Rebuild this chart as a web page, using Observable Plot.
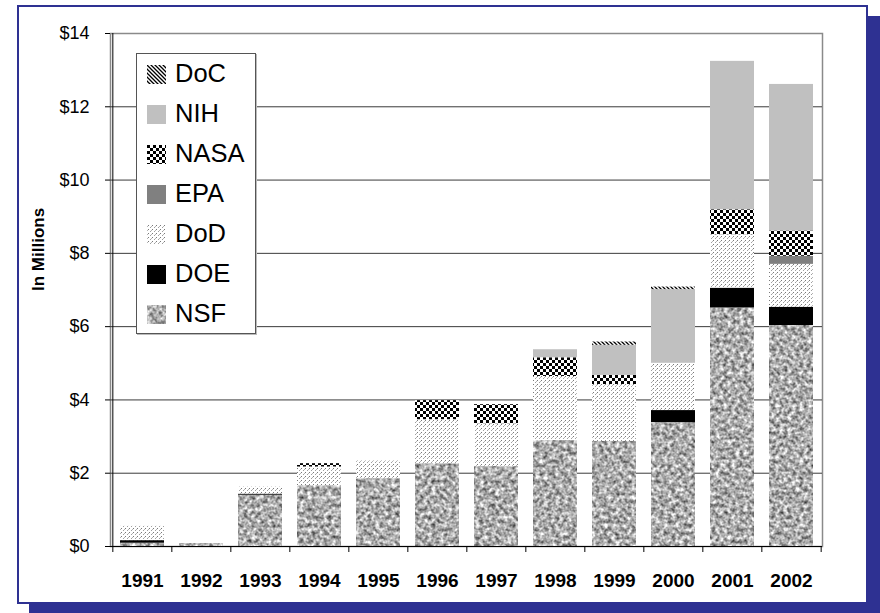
<!DOCTYPE html>
<html><head><meta charset="utf-8">
<script src="https://cdn.jsdelivr.net/npm/d3@7"></script>
<script src="https://cdn.jsdelivr.net/npm/@observablehq/plot@0.6"></script>
<style>
html,body{margin:0;padding:0;background:#fff;}
#wrap{position:relative;width:880px;height:613px;overflow:hidden;font-family:"Liberation Sans",Arial,sans-serif;}
#frame{position:absolute;left:17px;top:5px;width:847px;height:595px;border:2px solid #2E3192;background:#fff;box-shadow:12px 11px 0 #2E3192;}
#chart{position:absolute;left:0;top:0;}
#legend{position:absolute;left:136px;top:53px;width:118px;height:279px;border:1px solid #555;background:#fff;box-shadow:1px 1px 0 #bbb;}
.item{position:absolute;left:10px;height:40px;display:flex;align-items:center;font-size:25.5px;color:#000;line-height:1;}
.item svg{margin-right:9px;display:block;}
#defs{position:absolute;width:0;height:0;}
</style>
</head><body>
<svg id="defs" width="0" height="0">
<defs>
  <filter id="granite" x="0" y="0" width="100%" height="100%" color-interpolation-filters="sRGB">
    <feTurbulence type="fractalNoise" baseFrequency="0.25" numOctaves="3" seed="7"/>
    <feColorMatrix type="matrix" values="1.15 0 0 0 0.1  1.15 0 0 0 0.1  1.15 0 0 0 0.1  0 0 0 0 1"/>
  </filter>
  <pattern id="p-nsf" patternUnits="userSpaceOnUse" width="880" height="613">
    <rect width="880" height="613" filter="url(#granite)"/>
  </pattern>
  <pattern id="p-dod" patternUnits="userSpaceOnUse" width="4" height="4" shape-rendering="crispEdges">
    <rect width="4" height="4" fill="#fff"/>
    <rect x="1" y="0" width="1" height="1" fill="#7a7a7a"/>
    <rect x="0" y="1" width="1" height="1" fill="#b4b4b4"/>
    <rect x="3" y="2" width="1" height="1" fill="#a0a0a0"/>
  </pattern>
  <pattern id="p-nasa" patternUnits="userSpaceOnUse" width="6" height="6" shape-rendering="crispEdges">
    <rect width="6" height="6" fill="#fff"/>
    <rect x="0" y="0" width="3" height="3" fill="#000"/>
    <rect x="3" y="3" width="3" height="3" fill="#000"/>
  </pattern>
  <pattern id="p-doc" patternUnits="userSpaceOnUse" width="4" height="4">
    <rect width="4" height="4" fill="#fff"/>
    <path d="M-1,-1L5,5M-1,3L1,5M3,-1L5,1" stroke="#000" stroke-width="1.3"/>
  </pattern>
</defs>
</svg>
<div id="wrap">
  <div id="frame"></div>
  <div id="chart"></div>
  <div id="legend"></div>
</div>
<script>
const years = ["1991","1992","1993","1994","1995","1996","1997","1998","1999","2000","2001","2002"];
const agencies = ["NSF","DOE","DoD","EPA","NASA","NIH","DoC"];
const legendOrder = ["DoC","NIH","NASA","EPA","DoD","DOE","NSF"];
const fills = ["url(#p-nsf)","#000000","url(#p-dod)","#808080","url(#p-nasa)","#c0c0c0","url(#p-doc)"];

const NSF  = [0.09, 0.08, 1.40, 1.66, 1.85, 2.26, 2.18, 2.89, 2.87, 3.38, 6.51, 6.03];
const DOE  = [0.07, 0,    0.03, 0,    0,    0,    0,    0,    0,    0.33, 0.54, 0.50];
const DoD  = [0.39, 0,    0.19, 0.51, 0.48, 1.20, 1.17, 1.75, 1.55, 1.29, 1.46, 1.17];
const EPA  = [0,    0,    0,    0,    0,    0,    0,    0,    0,    0,    0,    0.22];
const NASA = [0,    0,    0,    0.09, 0,    0.52, 0.52, 0.51, 0.25, 0,    0.68, 0.69];
const NIH  = [0,    0,    0,    0,    0,    0,    0,    0.22, 0.82, 2.01, 4.05, 4.00];
const DoC  = [0,    0,    0,    0,    0,    0,    0,    0,    0.09, 0.07, 0,    0];

const yTicks = [0, 2, 4, 6, 8, 10, 12, 14];
const gridTicks = [2, 4, 6, 8, 10, 12];

const series = {NSF, DOE, DoD, EPA, NASA, NIH, DoC};
const rows = agencies.flatMap(a => years.map((y, i) => ({year: y, agency: a, value: series[a][i]})))
  .filter(d => d.value > 0);

const W = 880, H = 613, mL = 110, mR = 58, mT = 33, mB = 67;
const step = (W - mL - mR) / years.length;

const chart = Plot.plot({
  width: W, height: H,
  marginTop: mT, marginBottom: mB, marginLeft: mL, marginRight: mR,
  style: "background:transparent;font-family:'Liberation Sans',Arial,sans-serif;overflow:visible;color:#000;",
  x: {domain: years, paddingInner: 0.258, paddingOuter: 0.129, axis: null},
  y: {domain: [0, 14], axis: null},
  color: {type: "ordinal", domain: agencies, range: fills},
  marks: [
    Plot.frame({stroke: "#8a8a8a", strokeWidth: 1.5}),
    Plot.ruleY(gridTicks, {stroke: "#3a3a3a", strokeWidth: 1}),
    Plot.barY(rows, {x: "year", y: "value", fill: "agency", z: "agency"}),
    Plot.ruleY([0], {stroke: "#000", strokeWidth: 1}),
    Plot.ruleX([years[0]], {dx: -step / 2, y1: 0, y2: 14, stroke: "#000", strokeWidth: 1}),
    Plot.ruleX(years, {dx: -step / 2, y1: 0, y2: 0, insetTop: 6, stroke: "#000"}),
    Plot.ruleX([years[years.length - 1]], {dx: step / 2, y1: 0, y2: 0, insetTop: 6, stroke: "#000"}),
    Plot.axisY({ticks: yTicks, tickFormat: d => "$" + d, tickSize: 5, tickPadding: 16, fontSize: 18, label: null, stroke: "#000"}),
    Plot.axisX({tickSize: 0, tickPadding: 27, fontSize: 19, fontWeight: "bold", label: null}),
    Plot.text(["In Millions"], {frameAnchor: "left", rotate: -90, dx: -72, dy: 1, fontSize: 17, fontWeight: "bold", fill: "#000"})
  ]
});
document.getElementById("chart").appendChild(chart);

const legend = document.getElementById("legend");
legendOrder.forEach((a, i) => {
  const item = document.createElement("div");
  item.className = "item";
  item.style.top = (40 * i) + "px";
  const fill = fills[agencies.indexOf(a)];
  item.innerHTML = `<svg width="19" height="19"><rect width="19" height="19" fill="${fill}"/></svg><span>${a}</span>`;
  legend.appendChild(item);
});
</script>
</body></html>
